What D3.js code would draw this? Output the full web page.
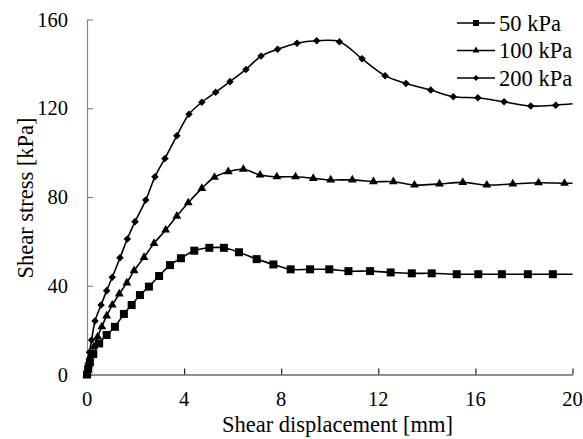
<!DOCTYPE html>
<html>
<head>
<meta charset="utf-8">
<script src="https://cdn.jsdelivr.net/npm/d3@7.9.0/dist/d3.min.js"></script>
<style>
  html, body { margin: 0; padding: 0; background: #fff; }
  svg { display: block; font-family: "Liberation Serif", "Times New Roman", serif; }
</style>
</head>
<body>
<svg id="chart" width="583" height="439"></svg>
<script>
// shear displacement [mm] and shear stress [kPa]
const x50 = [0, 0.05, 0.12, 0.26, 0.5, 0.81, 1.15, 1.52, 1.84, 2.18, 2.55, 2.97, 3.42, 3.87, 4.42, 5.04, 5.64, 6.26, 6.99, 7.68, 8.39, 9.19, 9.98, 10.77, 11.66, 12.51, 13.38, 14.2, 15.23, 16.12, 17.09, 18.16, 19.19, 20];
const y50 = [0, 2.5, 5.5, 9.2, 14, 17.8, 21.5, 27.3, 31.3, 35.8, 39.6, 44.4, 49.3, 52.4, 55.8, 57.1, 57.1, 55.1, 52, 49.6, 47.4, 47.4, 47.4, 46.6, 46.6, 46.0, 45.6, 45.6, 45.2, 45.2, 45.2, 45.2, 45.2, 45.2];

const x100 = [0, 0.06, 0.15, 0.28, 0.44, 0.61, 0.81, 1.04, 1.33, 1.64, 1.94, 2.35, 2.76, 3.24, 3.7, 4.17, 4.73, 5.25, 5.82, 6.44, 7.13, 7.82, 8.59, 9.32, 10.04, 10.93, 11.8, 12.62, 13.49, 14.52, 15.48, 16.47, 17.54, 18.6, 19.67, 20];
const y100 = [0, 4, 8.5, 12.5, 17, 21.5, 26.4, 31.3, 36.3, 41.3, 46.8, 52.8, 59.1, 65.1, 71.4, 77.4, 83.9, 88.9, 91.4, 92.5, 89.9, 89.1, 89.1, 88.4, 87.7, 87.7, 86.9, 86.9, 85.4, 85.9, 86.6, 85.4, 85.9, 86.4, 86.2, 86.2];

const x200 = [0, 0.05, 0.1, 0.19, 0.33, 0.58, 0.81, 1.04, 1.36, 1.66, 1.98, 2.42, 2.8, 3.21, 3.7, 4.2, 4.73, 5.3, 5.89, 6.55, 7.17, 7.85, 8.65, 9.46, 10.4, 11.33, 12.28, 13.14, 14.16, 15.09, 16.1, 17.18, 18.28, 19.31, 20];
const y200 = [0, 5, 10, 15.5, 24.1, 31.3, 37.8, 43.8, 52.6, 61.1, 68.9, 78.6, 89.1, 97.4, 107.6, 117.3, 122.7, 127.2, 132, 137.5, 143.5, 146.6, 149.3, 150.4, 150.0, 142.3, 134.7, 131.2, 128.2, 125.2, 124.7, 122.9, 121.0, 121.4, 122.0];

const seriesNames = ['50 kPa', '100 kPa', '200 kPa'];
const seriesShapes = [d3.symbolSquare, d3.symbolTriangle, d3.symbolDiamond2];
const xTicks = [0, 4, 8, 12, 16, 20];
const yTicks = [0, 40, 80, 120, 160];

const series = [
  { name: seriesNames[0], shape: seriesShapes[0], pts: x50.map((x, i) => [x, y50[i]]), size: 64, legSize: 36 },
  { name: seriesNames[1], shape: seriesShapes[1], pts: x100.map((x, i) => [x, y100[i]]), size: 34, legSize: 20 },
  { name: seriesNames[2], shape: seriesShapes[2], pts: x200.map((x, i) => [x, y200[i]]), size: 36, legSize: 22 },
];

const svg = d3.select('#chart');
const plotLeft = 87, plotRight = 572.5, plotTop = 19.5, plotBottom = 374.5;

const x = d3.scaleLinear().domain([0, 20]).range([plotLeft, plotRight]);
const y = d3.scaleLinear().domain([0, 160]).range([plotBottom, plotTop]);

// y axis (grey, ticks pointing in)
const yAxis = svg.append('g')
  .attr('transform', `translate(${plotLeft},0)`)
  .call(d3.axisRight(y).tickValues(yTicks).tickSize(6).tickSizeOuter(0).tickFormat(''));
yAxis.select('.domain').attr('stroke', '#868686').attr('stroke-width', 1.2);
yAxis.selectAll('.tick line').attr('stroke', '#868686').attr('stroke-width', 1.2);

svg.append('g').selectAll('text')
  .data(yTicks)
  .join('text')
  .attr('x', 68)
  .attr('y', d => y(d))
  .attr('dy', '0.35em')
  .attr('text-anchor', 'end')
  .attr('font-size', 20.5)
  .text(d => d);

// x axis
const xAxis = svg.append('g')
  .attr('transform', `translate(0,${plotBottom})`)
  .call(d3.axisTop(x).tickValues(xTicks).tickSize(6).tickSizeOuter(0).tickFormat(''));
xAxis.select('.domain').attr('stroke', '#222').attr('stroke-width', 1.2);
xAxis.selectAll('.tick line').attr('stroke', '#222').attr('stroke-width', 1.2);

svg.append('g').selectAll('text')
  .data(xTicks)
  .join('text')
  .attr('x', d => x(d))
  .attr('y', 406)
  .attr('text-anchor', 'middle')
  .attr('font-size', 20.5)
  .text(d => d);

svg.append('text')
  .attr('x', 337.5)
  .attr('y', 432)
  .attr('text-anchor', 'middle')
  .attr('font-size', 22.5)
  .text('Shear displacement [mm]');

svg.append('text')
  .attr('transform', 'translate(33,198) rotate(-90)')
  .attr('text-anchor', 'middle')
  .attr('font-size', 22.5)
  .text('Shear stress [kPa]');

const line = d3.line()
  .x(d => x(d[0]))
  .y(d => y(d[1]))
  .curve(d3.curveCatmullRom.alpha(0.5));

series.forEach(s => {
  svg.append('path')
    .datum(s.pts)
    .attr('fill', 'none')
    .attr('stroke', '#000')
    .attr('stroke-width', 1.6)
    .attr('d', line);

  // the last point closes the line at 20 mm without a marker
  svg.append('g').selectAll('path')
    .data(s.pts.slice(0, -1))
    .join('path')
    .attr('transform', d => `translate(${x(d[0])},${y(d[1])})`)
    .attr('d', d3.symbol().type(s.shape).size(s.size))
    .attr('fill', '#000');
});

// legend
const legRows = [23, 50.5, 78];
const legend = svg.append('g');
series.forEach((s, i) => {
  const g = legend.append('g').attr('transform', `translate(0,${legRows[i]})`);
  g.append('line').attr('x1', 457).attr('x2', 495).attr('stroke', '#000').attr('stroke-width', 1.6);
  g.append('path')
    .attr('transform', 'translate(476,0)')
    .attr('d', d3.symbol().type(s.shape).size(s.legSize))
    .attr('fill', '#000');
  g.append('text')
    .attr('x', 499)
    .attr('dy', '0.35em')
    .attr('font-size', 22.5)
    .text(s.name);
});
</script>
</body>
</html>
